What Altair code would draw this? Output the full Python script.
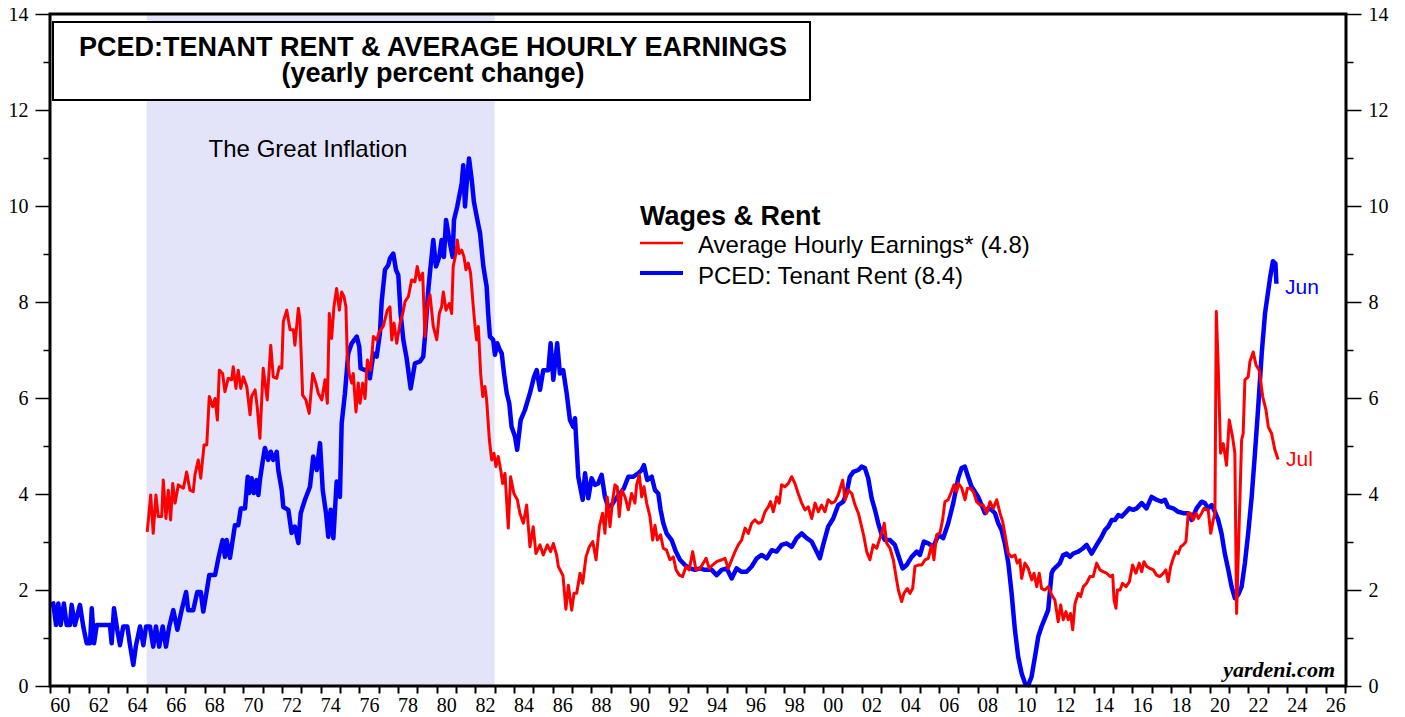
import altair as alt
import pandas as pd

# ---------------- data ----------------
blue_years = [1960.00,1960.17,1960.31,1960.43,1960.55,1960.72,1960.86,1961.03,1961.12,1961.29,1961.55,1961.72,1961.90,1962.07,1962.16,1962.28,1962.42,1963.10,1963.19,1963.31,1963.48,1963.62,1963.79,1964.00,1964.14,1964.31,1964.45,1964.66,1964.83,1964.97,1965.17,1965.34,1965.48,1965.65,1965.83,1966.00,1966.17,1966.38,1966.59,1966.81,1967.04,1967.15,1967.41,1967.62,1967.80,1967.93,1968.11,1968.24,1968.54,1968.71,1968.93,1969.05,1969.14,1969.31,1969.45,1969.57,1969.74,1969.87,1970.09,1970.23,1970.31,1970.43,1970.55,1970.69,1970.78,1970.86,1971.00,1971.12,1971.29,1971.42,1971.55,1971.73,1971.81,1971.99,1972.07,1972.33,1972.50,1972.67,1972.85,1972.97,1973.19,1973.45,1973.62,1973.80,1973.97,1974.11,1974.28,1974.40,1974.52,1974.66,1974.83,1975.00,1975.09,1975.26,1975.43,1975.61,1975.87,1976.00,1976.07,1976.30,1976.47,1976.55,1976.73,1976.90,1977.07,1977.16,1977.33,1977.50,1977.59,1977.76,1977.90,1978.02,1978.14,1978.28,1978.45,1978.66,1978.88,1979.14,1979.31,1979.40,1979.57,1979.69,1979.83,1979.97,1980.14,1980.26,1980.38,1980.49,1980.66,1980.83,1980.90,1981.07,1981.30,1981.38,1981.47,1981.56,1981.68,1981.82,1981.93,1982.11,1982.25,1982.42,1982.59,1982.67,1982.76,1982.93,1983.02,1983.14,1983.24,1983.37,1983.49,1983.63,1983.76,1983.88,1984.06,1984.17,1984.35,1984.57,1984.83,1985.04,1985.18,1985.35,1985.52,1985.78,1985.90,1986.04,1986.24,1986.38,1986.55,1986.73,1986.90,1987.07,1987.16,1987.33,1987.56,1987.68,1987.85,1988.02,1988.19,1988.36,1988.54,1988.71,1988.88,1989.06,1989.23,1989.49,1989.69,1989.92,1990.18,1990.43,1990.61,1990.73,1990.90,1991.13,1991.30,1991.47,1991.59,1991.73,1991.90,1992.16,1992.38,1992.59,1992.85,1993.11,1993.37,1993.63,1993.88,1994.23,1994.49,1994.75,1995.01,1995.27,1995.52,1995.78,1996.04,1996.30,1996.56,1996.82,1997.08,1997.34,1997.59,1997.85,1998.11,1998.37,1998.63,1998.89,1999.15,1999.40,1999.66,1999.83,2000.00,2000.26,2000.52,2000.78,2001.04,2001.21,2001.38,2001.56,2001.82,2001.99,2002.16,2002.33,2002.51,2002.68,2002.85,2003.03,2003.20,2003.46,2003.71,2003.88,2004.11,2004.32,2004.58,2004.84,2005.01,2005.21,2005.44,2005.70,2005.96,2006.21,2006.47,2006.73,2006.99,2007.16,2007.33,2007.50,2007.68,2007.85,2008.02,2008.20,2008.37,2008.54,2008.72,2008.89,2009.06,2009.23,2009.40,2009.58,2009.75,2009.92,2010.09,2010.27,2010.44,2010.61,2010.78,2010.96,2011.13,2011.30,2011.47,2011.64,2011.82,2011.90,2012.08,2012.25,2012.42,2012.60,2012.77,2012.94,2013.20,2013.45,2013.63,2013.89,2014.15,2014.41,2014.58,2014.75,2014.93,2015.10,2015.27,2015.44,2015.61,2015.84,2016.04,2016.22,2016.48,2016.73,2016.99,2017.25,2017.51,2017.68,2017.85,2018.11,2018.37,2018.63,2018.89,2019.06,2019.32,2019.58,2019.75,2019.92,2020.10,2020.27,2020.44,2020.61,2020.78,2020.96,2021.13,2021.30,2021.47,2021.65,2021.82,2021.99,2022.17,2022.34,2022.51,2022.69,2022.86,2023.12,2023.27,2023.40,2023.45]
blue_values = [1.69,1.72,1.27,1.72,1.27,1.72,1.27,1.27,1.69,1.27,1.69,1.24,0.89,0.89,1.62,0.89,1.27,1.27,0.89,1.62,1.17,0.85,1.24,1.24,0.85,0.44,0.85,1.24,0.85,1.24,1.24,0.82,1.24,0.82,1.24,0.82,1.24,1.58,1.17,1.58,1.96,1.58,1.58,1.96,1.96,1.55,1.98,2.31,2.31,2.66,3.04,2.69,3.04,2.67,3.04,3.35,3.35,3.70,3.70,4.36,4.02,4.33,4.02,4.29,3.98,4.29,4.67,4.96,4.71,4.88,4.71,4.88,4.50,4.08,3.73,3.67,3.19,3.32,2.98,3.60,3.88,4.15,4.78,4.50,5.06,4.08,3.60,3.11,3.67,3.08,4.26,3.94,5.47,6.10,6.93,7.14,7.28,7.07,6.62,6.58,6.58,6.41,6.93,6.86,7.35,8.01,8.67,8.77,8.91,9.01,8.67,8.56,7.76,7.21,6.83,6.20,6.72,6.76,6.86,7.28,8.25,8.74,9.29,8.74,8.94,9.29,8.94,9.71,9.29,8.94,9.71,9.99,10.47,10.85,9.99,10.47,10.99,10.54,10.09,9.71,9.43,8.74,8.32,7.76,7.28,7.21,6.90,7.14,7.03,6.93,6.51,6.10,5.89,5.40,5.19,4.92,5.54,5.75,6.10,6.44,6.58,6.17,6.58,6.58,7.14,6.38,7.14,6.51,6.58,6.10,5.54,5.40,5.58,4.36,3.88,4.43,3.91,4.33,4.19,4.22,4.40,3.94,3.73,3.77,3.88,4.01,4.12,4.36,4.36,4.43,4.50,4.60,4.29,4.36,4.08,4.01,3.67,3.39,3.18,3.04,2.80,2.63,2.52,2.45,2.42,2.45,2.42,2.42,2.31,2.42,2.45,2.24,2.45,2.38,2.38,2.49,2.66,2.73,2.66,2.83,2.80,2.94,2.97,2.90,3.08,3.18,3.08,3.01,2.80,2.66,2.94,3.32,3.49,3.77,3.84,4.01,4.36,4.46,4.50,4.57,4.54,4.33,3.91,3.67,3.39,3.15,3.04,3.04,2.94,2.73,2.45,2.52,2.69,2.80,2.73,3.01,2.97,2.90,3.15,3.08,3.39,3.81,4.33,4.54,4.57,4.36,4.15,4.05,3.94,3.77,3.60,3.70,3.67,3.60,3.39,3.25,2.97,2.56,1.93,1.17,0.61,0.26,0.06,0.02,0.19,0.61,1.03,1.24,1.41,1.58,2.35,2.42,2.49,2.56,2.73,2.76,2.69,2.76,2.80,2.87,2.94,2.76,2.94,3.11,3.25,3.32,3.46,3.46,3.56,3.53,3.60,3.70,3.67,3.70,3.81,3.70,3.94,3.88,3.84,3.88,3.73,3.70,3.63,3.60,3.60,3.46,3.70,3.84,3.81,3.70,3.77,3.63,3.46,3.18,2.76,2.42,2.07,1.83,1.90,2.07,2.56,3.18,3.94,4.85,5.82,6.93,7.76,8.50,8.85,8.80,8.38]

red_years = [1965.03,1965.21,1965.34,1965.48,1965.60,1965.78,1965.86,1966.00,1966.12,1966.24,1966.35,1966.47,1966.64,1966.90,1967.07,1967.24,1967.41,1967.50,1967.67,1967.80,1967.97,1968.11,1968.24,1968.42,1968.54,1968.66,1968.76,1968.93,1969.05,1969.22,1969.40,1969.48,1969.62,1969.74,1969.87,1970.00,1970.18,1970.35,1970.43,1970.61,1970.72,1970.86,1971.03,1971.24,1971.42,1971.55,1971.73,1971.86,1971.99,1972.07,1972.25,1972.42,1972.59,1972.67,1972.85,1972.93,1973.07,1973.24,1973.41,1973.59,1973.76,1973.88,1974.06,1974.23,1974.35,1974.45,1974.57,1974.69,1974.83,1974.97,1975.09,1975.21,1975.31,1975.38,1975.48,1975.61,1975.69,1975.83,1975.95,1976.04,1976.18,1976.30,1976.42,1976.59,1976.73,1976.90,1977.04,1977.24,1977.45,1977.59,1977.68,1977.80,1977.94,1978.11,1978.25,1978.37,1978.54,1978.71,1978.88,1979.00,1979.14,1979.28,1979.40,1979.49,1979.66,1979.83,1980.01,1980.14,1980.26,1980.35,1980.49,1980.66,1980.78,1980.86,1981.00,1981.07,1981.17,1981.30,1981.42,1981.52,1981.64,1981.76,1981.90,1981.99,1982.07,1982.16,1982.28,1982.39,1982.50,1982.59,1982.73,1982.85,1982.97,1983.07,1983.19,1983.32,1983.42,1983.54,1983.71,1983.83,1984.00,1984.18,1984.31,1984.49,1984.66,1984.83,1985.00,1985.14,1985.35,1985.52,1985.73,1985.90,1986.04,1986.21,1986.30,1986.54,1986.69,1986.82,1986.99,1987.11,1987.25,1987.42,1987.56,1987.73,1987.90,1988.08,1988.25,1988.42,1988.59,1988.71,1988.83,1988.97,1989.11,1989.23,1989.35,1989.45,1989.58,1989.75,1989.92,1990.09,1990.26,1990.35,1990.49,1990.61,1990.73,1990.87,1991.04,1991.18,1991.30,1991.42,1991.59,1991.73,1991.90,1992.07,1992.25,1992.39,1992.56,1992.73,1992.90,1993.07,1993.25,1993.42,1993.63,1993.80,1993.94,1994.11,1994.28,1994.49,1994.75,1994.92,1995.09,1995.27,1995.44,1995.61,1995.78,1995.96,1996.13,1996.30,1996.47,1996.64,1996.82,1996.99,1997.16,1997.28,1997.42,1997.60,1997.73,1997.85,1998.02,1998.20,1998.37,1998.54,1998.71,1998.89,1999.06,1999.23,1999.41,1999.58,1999.75,1999.92,2000.09,2000.26,2000.44,2000.61,2000.78,2001.01,2001.13,2001.30,2001.48,2001.65,2001.82,2001.99,2002.11,2002.25,2002.42,2002.59,2002.77,2002.94,2003.08,2003.16,2003.29,2003.46,2003.63,2003.77,2003.89,2004.06,2004.18,2004.35,2004.49,2004.63,2004.75,2004.92,2005.10,2005.27,2005.44,2005.61,2005.73,2005.87,2006.04,2006.18,2006.30,2006.47,2006.60,2006.77,2006.91,2006.99,2007.17,2007.34,2007.46,2007.60,2007.77,2007.94,2008.11,2008.28,2008.46,2008.63,2008.80,2008.98,2009.15,2009.29,2009.41,2009.58,2009.75,2009.92,2010.04,2010.18,2010.27,2010.44,2010.61,2010.79,2010.91,2011.05,2011.18,2011.30,2011.48,2011.65,2011.82,2011.99,2012.16,2012.29,2012.42,2012.56,2012.68,2012.80,2012.91,2013.03,2013.20,2013.32,2013.46,2013.63,2013.80,2013.97,2014.15,2014.32,2014.49,2014.67,2014.84,2014.98,2015.05,2015.15,2015.22,2015.36,2015.49,2015.67,2015.84,2016.01,2016.18,2016.35,2016.48,2016.60,2016.74,2016.91,2017.08,2017.25,2017.42,2017.60,2017.73,2017.85,2017.98,2018.11,2018.25,2018.37,2018.50,2018.63,2018.77,2018.89,2019.01,2019.15,2019.29,2019.41,2019.58,2019.70,2019.84,2019.92,2020.05,2020.18,2020.27,2020.34,2020.44,2020.56,2020.70,2020.87,2021.01,2021.18,2021.30,2021.39,2021.51,2021.65,2021.73,2021.82,2021.99,2022.08,2022.25,2022.39,2022.56,2022.74,2022.91,2023.03,2023.20,2023.37,2023.54]
red_values = [3.21,3.98,3.18,3.98,3.53,3.53,4.29,3.49,4.08,3.46,4.22,3.81,4.19,4.12,4.46,4.08,4.05,4.40,4.71,4.33,5.02,5.02,6.03,5.82,5.99,5.54,6.58,6.51,6.13,6.41,6.38,6.65,6.20,6.58,6.20,6.44,6.24,5.65,6.03,6.17,5.82,5.16,6.62,5.96,7.10,6.44,6.41,6.65,6.62,7.59,7.83,7.42,7.42,7.10,7.87,7.63,6.06,5.96,5.68,6.51,6.30,6.10,5.96,6.38,5.89,7.76,7.24,7.90,8.28,7.83,8.21,8.11,7.90,6.86,6.51,6.31,6.51,5.71,6.31,5.89,6.31,5.99,6.79,6.58,7.28,7.21,7.38,7.49,7.83,7.90,7.21,7.56,7.14,7.56,7.76,8.01,8.11,8.46,8.42,8.74,8.46,8.60,7.28,7.83,8.15,7.49,7.21,7.76,7.90,8.21,7.83,7.97,7.76,8.74,9.01,9.29,9.01,9.08,8.94,8.67,8.81,8.60,7.90,7.49,7.21,7.49,6.51,6.03,6.24,5.96,5.13,4.71,4.85,4.57,4.78,4.50,4.22,4.43,3.29,4.36,4.01,3.88,3.60,3.39,3.77,2.90,3.32,2.76,2.94,2.73,2.94,2.80,2.97,2.73,2.49,2.30,1.60,2.10,1.58,1.93,1.93,2.35,2.14,2.69,2.90,3.01,2.63,3.32,3.60,3.18,3.94,3.32,3.88,4.19,4.15,3.53,4.08,3.94,3.67,4.01,3.81,4.19,4.40,3.94,4.15,3.81,3.53,3.04,3.35,3.04,3.15,2.87,2.83,2.63,2.69,2.42,2.31,2.28,2.49,2.42,2.80,2.42,2.45,2.56,2.66,2.45,2.52,2.59,2.63,2.66,2.45,2.63,2.80,2.94,3.04,3.29,3.18,3.39,3.46,3.39,3.42,3.63,3.73,3.84,3.63,3.94,3.81,4.19,4.15,4.22,4.36,4.22,4.01,3.81,3.67,3.73,3.49,3.81,3.63,3.77,3.63,3.88,3.81,3.84,3.98,4.29,3.88,4.08,4.01,3.77,3.60,3.32,3.11,2.80,2.63,2.94,2.87,3.08,3.25,3.39,2.97,2.87,2.63,2.28,2.00,1.76,1.93,2.03,1.93,2.03,2.49,2.52,2.52,2.63,2.66,2.94,2.63,3.15,3.18,3.46,3.84,3.88,4.01,4.19,4.05,4.22,4.12,3.88,4.12,4.12,4.05,3.84,3.77,3.77,3.60,3.84,3.70,3.88,3.60,3.42,3.15,2.76,2.69,2.73,2.56,2.63,2.24,2.56,2.45,2.21,2.35,2.07,2.35,2.03,2.00,2.07,1.90,1.79,1.34,1.69,1.38,1.55,1.38,1.51,1.17,1.72,1.93,1.86,2.07,2.14,2.28,2.28,2.56,2.42,2.38,2.35,2.28,2.31,1.79,1.62,2.00,2.00,2.14,2.07,2.17,2.52,2.35,2.56,2.38,2.59,2.49,2.45,2.42,2.31,2.28,2.35,2.42,2.17,2.49,2.66,2.80,2.76,2.90,2.94,3.01,3.60,3.60,3.46,3.60,3.49,3.60,3.70,3.67,3.67,3.18,3.46,3.60,7.80,6.65,4.85,5.05,4.60,5.54,5.19,4.85,1.51,3.18,5.13,5.26,6.38,6.44,6.76,6.96,6.69,6.58,6.03,5.75,5.40,5.26,4.92,4.72]

x_tick_years = list(range(1960, 2028))
y_tick_values = list(range(0, 15))
shade_start = [1965.0]
shade_end = [1983.0]

title_line1 = "PCED:TENANT RENT & AVERAGE HOURLY EARNINGS"
title_line2 = "(yearly percent change)"
shade_label = "The Great Inflation"
legend_title = "Wages & Rent"
legend_red = "Average Hourly Earnings* (4.8)"
legend_blue = "PCED: Tenant Rent (8.4)"
end_blue = "Jun"
end_red = "Jul"
source = "yardeni.com"

# ---------------- chart ----------------
W, H = 1296, 672
SANS = "Liberation Sans"
SERIF = "Liberation Serif"
RED = "#FF0000"
BLUE = "#0000FF"

blue_df = pd.DataFrame({"year": blue_years, "value": blue_values})
red_df = pd.DataFrame({"year": red_years, "value": red_values})
shade_df = pd.DataFrame({"s": shade_start, "e": shade_end})
one = pd.DataFrame({"a": [0]})

xscale = alt.Scale(domain=[1960, 2027.05], nice=False, zero=False)
yscale = alt.Scale(domain=[0, 14], nice=False, zero=True)

x_label_expr = ("datum.value % 2 === 0 ? ((datum.value % 100) < 10 ? '0' + (datum.value % 100) "
                ": '' + (datum.value % 100)) : ''")
xaxis = alt.Axis(values=x_tick_years, labelExpr=x_label_expr, tickSize=7, tickWidth=2,
                 tickColor="black", labelOffset=9.67, labelPadding=2, labelFont=SERIF,
                 labelFontSize=20, labelColor="black", domain=False, grid=False, title=None,
                 labelFlush=False, labelOverlap=False)


def yaxis(orient):
    return alt.Axis(orient=orient, values=y_tick_values,
                    labelExpr="datum.value % 2 === 0 ? datum.label : ''",
                    tickSize={"condition": {"test": "datum.value % 2 === 0", "value": 15}, "value": 7},
                    tickWidth=1.5, tickColor="black", labelPadding=7, labelFont=SERIF,
                    labelFontSize=20, labelColor="black", domain=False, grid=False, title=None,
                    labelFlush=False, labelOverlap=False)


shade = alt.Chart(shade_df).mark_rect(color="#E3E3FA").encode(
    x=alt.X("s:Q", scale=xscale, axis=xaxis), x2="e:Q",
    y=alt.value(0), y2=alt.value(H))

blue_line = alt.Chart(blue_df).mark_line(color=BLUE, strokeWidth=4.5, strokeJoin="round").encode(
    x=alt.X("year:Q", scale=xscale, axis=xaxis),
    y=alt.Y("value:Q", scale=yscale, axis=yaxis("left")))

red_line = alt.Chart(red_df).mark_line(color=RED, strokeWidth=3, strokeJoin="round").encode(
    x=alt.X("year:Q", scale=xscale, axis=xaxis),
    y=alt.Y("value:Q", scale=yscale, axis=yaxis("right")))

title_box = alt.Chart(one).mark_rect(fill="white", stroke="black", strokeWidth=2).encode(
    x=alt.value(3), x2=alt.value(760), y=alt.value(8), y2=alt.value(86))


def txt(text, x, y, size, color="black", weight="normal", align="left", font=SANS, style="normal"):
    return alt.Chart(one).mark_text(text=text, font=font, fontSize=size, fontWeight=weight,
                                    fontStyle=style, align=align, baseline="alphabetic",
                                    color=color).encode(x=alt.value(x), y=alt.value(y))


t1 = txt(title_line1, 383, 42, 27, weight="bold", align="center")
t2 = txt(title_line2, 383, 68, 27, weight="bold", align="center")
t_shade = txt(shade_label, 258, 143, 24, align="center")
t_leg = txt(legend_title, 590, 211, 27, weight="bold")
t_red = txt(legend_red, 648, 239, 24)
t_blue = txt(legend_blue, 648, 270, 24)
t_jun = txt(end_blue, 1235, 280, 21, color=BLUE)
t_jul = txt(end_red, 1236, 452, 21, color=RED)
t_src = txt(source, 1285, 663, 22, weight="bold", align="right", font=SERIF, style="italic")

leg_red_line = alt.Chart(one).mark_rule(color=RED, strokeWidth=2.5).encode(
    x=alt.value(590), x2=alt.value(633), y=alt.value(229))
leg_blue_line = alt.Chart(one).mark_rule(color=BLUE, strokeWidth=4).encode(
    x=alt.value(590), x2=alt.value(633), y=alt.value(259))

frame = alt.Chart(one).mark_rect(fill="transparent", stroke="black", strokeWidth=3).encode(
    x=alt.value(0), x2=alt.value(W), y=alt.value(0), y2=alt.value(H))

chart = alt.layer(
    shade, blue_line, red_line, title_box, t1, t2, t_shade, t_leg, leg_red_line, leg_blue_line,
    t_red, t_blue, t_jun, t_jul, t_src, frame
).resolve_axis(y="independent").properties(
    width=W, height=H,
    padding={"left": 42, "top": 6, "right": 50, "bottom": 31},
    autosize=alt.AutoSizeParams(type="none"),
).configure_view(fill="#FFFFE6", strokeWidth=0).configure(background="white")

chart.save("out.html", embed_options={"renderer": "svg", "actions": False})
